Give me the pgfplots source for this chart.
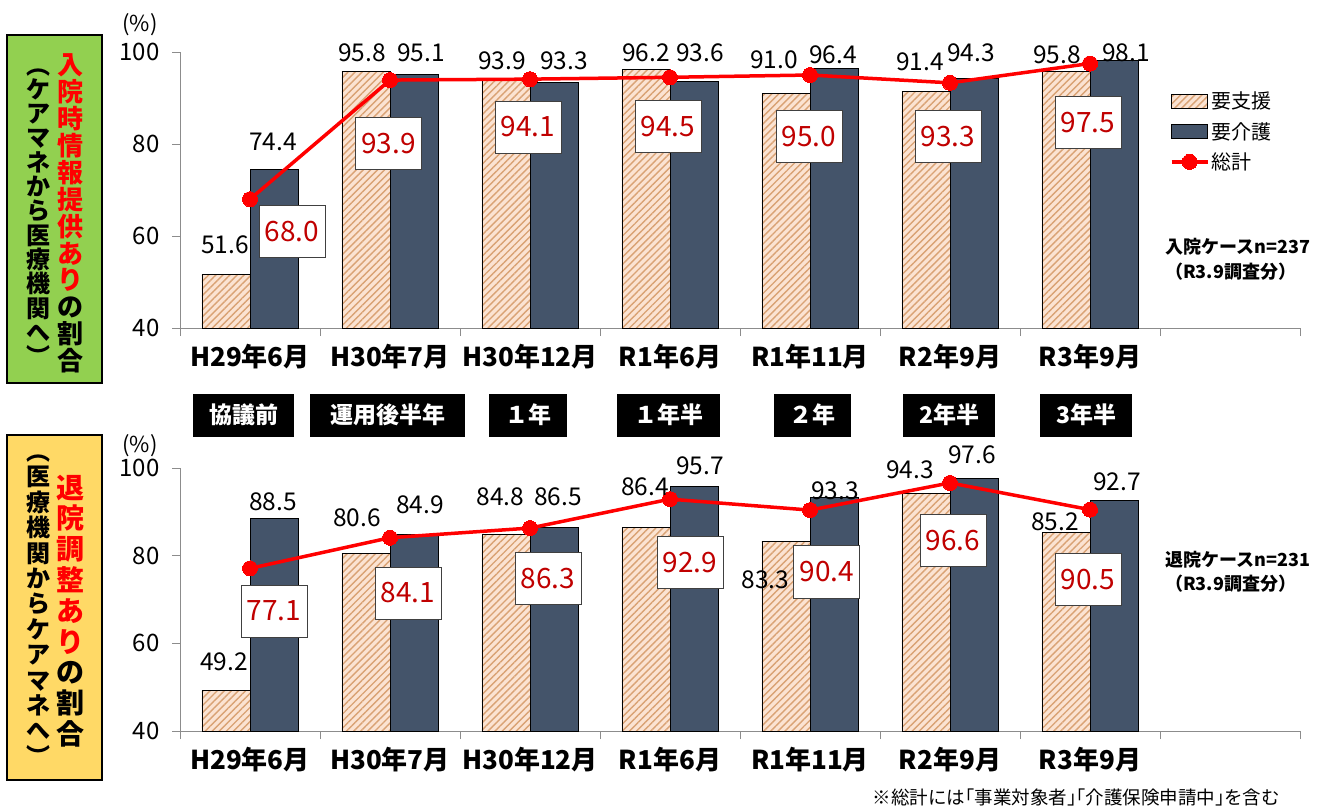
\documentclass[border=0pt]{standalone}
\usepackage{fontspec}
\setmainfont{Noto Sans CJK JP}
\usepackage{pgfplots}
\usepackage{pgfplotstable}
\pgfplotsset{compat=1.18}
\usetikzlibrary{patterns.meta}
\definecolor{peach}{HTML}{FBE3D2}
\definecolor{stripe}{HTML}{D9A274}
\definecolor{slate}{HTML}{44546A}
\definecolor{boxred}{HTML}{C00000}
\definecolor{jpred}{HTML}{FF0000}
\definecolor{gbox}{HTML}{92D050}
\definecolor{ybox}{HTML}{FFD966}
\definecolor{axgray}{HTML}{8C8C8C}

\pgfplotstableread{
x shien kaigo total
0 51.6 74.4 68.0
1 95.8 95.1 93.9
2 93.9 93.3 94.1
3 96.2 93.6 94.5
4 91.0 96.4 95.0
5 91.4 94.3 93.3
6 95.8 98.1 97.5
}\nyuin

\pgfplotstableread{
x shien kaigo total
0 49.2 88.5 77.1
1 80.6 84.9 84.1
2 84.8 86.5 86.3
3 86.4 95.7 92.9
4 83.3 93.3 90.4
5 94.3 97.6 96.6
6 85.2 92.7 90.5
}\taiin

% label positions (layout only)
\pgfplotstableread{
x y lbl
-0.179 58.0 51.6
0.164 80.4 74.4
0.80 99.8 95.8
1.221 99.8 95.1
1.80 98.0 93.9
2.243 98.0 93.3
2.829 99.8 96.2
3.214 99.8 93.6
3.743 98.3 91.0
4.164 99.3 96.4
4.786 97.8 91.4
5.15 99.8 94.3
5.764 99.3 95.8
6.257 99.9 98.1
}\nyuinlbl

\pgfplotstableread{
x y lbl
0.30 60.9 68.0
0.99 80.2 93.9
1.986 83.7 94.1
2.986 83.9 94.5
3.993 81.7 95.0
4.986 81.7 93.3
5.986 84.6 97.5
}\nyuinbox

\pgfplotstableread{
x y lbl
-0.186 55.8 49.2
0.164 92.3 88.5
0.764 88.6 80.6
1.214 91.6 84.9
1.79 93.4 84.8
2.2 93.4 86.5
2.821 95.7 86.4
3.68 74.5 83.3
4.179 94.8 93.3
4.714 99.6 94.3
5.75 87.7 85.2
6.193 96.8 92.7
}\taiinlbl

\pgfplotstableread{
x y lbl
0.171 67.4 77.1
1.129 71.5 84.1
2.129 74.9 86.3
3.143 78.4 92.9
4.12 76.3 90.4
5.021 83.4 96.6
5.986 74.5 90.5
}\taiinbox

\pgfplotsset{
  /pgf/number format/assume math mode=true,
  jpaxis/.style={
    scale only axis, width=1120pt,
    xmin=-0.5, xmax=7.5, ymin=40, ymax=100,
    axis lines*=left,
    axis line style={axgray, line width=1pt},
    tick style={axgray, line width=1pt},
    tick align=outside, major tick length=8pt,
    ytick={40,60,80,100},
    xtick={-0.5,0.5,...,7.5},
    x tick label as interval,
    xticklabels={H29年6月,H30年7月,H30年12月,R1年6月,R1年11月,R2年9月,R3年9月,{}},
    xticklabel style={font=\bfseries\fontsize{26}{28}\selectfont, yshift=-5pt},
    yticklabel style={font=\fontsize{24}{28}\selectfont, xshift=-9pt},
  },
  shienbar/.style={ybar, bar width=0.343, bar shift=-0.1715, draw=black, line width=0.8pt,
    fill=peach, postaction={pattern={Lines[angle=45,distance=5pt,line width=1.4pt]}, pattern color=stripe},
    legend image code/.code={\draw[#1] (0pt,-7pt) rectangle (36pt,7pt);}},
  kaigobar/.style={ybar, bar width=0.343, bar shift=0.1715, draw=black, line width=0.8pt, fill=slate,
    legend image code/.code={\draw[#1] (0pt,-7pt) rectangle (36pt,7pt);}},
  totalline/.style={jpred, line width=3.5pt, mark=*, mark size=7.5pt, mark options={fill=jpred, draw=jpred, line width=0pt},
    legend image code/.code={\draw[#1, mark repeat=2, mark phase=2] plot coordinates {(0pt,0pt) (18pt,0pt) (36pt,0pt)};}},
  barlbl/.style={draw=none, forget plot, nodes near coords, point meta=explicit symbolic,
    nodes near coords align={center},
    every node near coord/.append style={anchor=center, text=black, font=\fontsize{24.5}{27}\selectfont, inner sep=0pt}},
  boxlbl/.style={draw=none, forget plot, nodes near coords, point meta=explicit symbolic,
    nodes near coords align={center},
    every node near coord/.append style={anchor=center, draw=black!75, line width=0.8pt, fill=white, text=boxred,
      minimum width=66pt, minimum height=52pt, inner sep=0pt, font=\fontsize{28}{30}\selectfont}},
}

\begin{document}
\begin{tikzpicture}
\useasboundingbox (0,0) rectangle (1332pt,-809pt);

% ---------- top chart ----------
\begin{axis}[jpaxis, at={(180pt,-328pt)}, anchor=south west, height=276pt,
  legend style={at={(0.881,0.87)}, anchor=north west, draw=none, fill=none,
    font=\fontsize{20}{24}\selectfont, legend cell align=left, row sep=8pt,
    nodes={inner sep=2pt}}]
\addplot[shienbar] table[x=x, y=shien] {\nyuin};
\addlegendentry{要支援}
\addplot[kaigobar] table[x=x, y=kaigo] {\nyuin};
\addlegendentry{要介護}
\addplot[totalline] table[x=x, y=total] {\nyuin};
\addlegendentry{総計}
\addplot[barlbl] table[x=x, y=y, meta=lbl] {\nyuinlbl};
\addplot[boxlbl] table[x=x, y=y, meta=lbl] {\nyuinbox};
\end{axis}

% ---------- bottom chart ----------
\begin{axis}[jpaxis, at={(180pt,-731pt)}, anchor=south west, height=263pt]
\addplot[shienbar] table[x=x, y=shien] {\taiin};
\addplot[kaigobar] table[x=x, y=kaigo] {\taiin};
\addplot[totalline] table[x=x, y=total] {\taiin};
\addplot[barlbl] table[x=x, y=y, meta=lbl] {\taiinlbl};
% labels that sit above the plot area (anchored at the top edge, shifted up)
\addplot[barlbl, every node near coord/.append style={yshift=2.5pt}] coordinates {(3.214,99.9) [95.7]};
\addplot[barlbl, every node near coord/.append style={yshift=13.5pt}] coordinates {(5.157,99.9) [97.6]};
\addplot[boxlbl] table[x=x, y=y, meta=lbl] {\taiinbox};
\end{axis}

% (%) labels
\node[font=\fontsize{22}{24}\selectfont] at (140pt,-25pt) {(\%)};
\node[font=\fontsize{22}{24}\selectfont] at (140pt,-446pt) {(\%)};

% left boxes
\draw[fill=gbox, line width=1.2pt] (7pt,-35pt) rectangle (102pt,-383pt);
\node[align=center, inner sep=0pt, font=\bfseries\fontsize{26}{26.9}\selectfont] at (70pt,-213.5pt)
 {\textcolor{jpred}{入}\\\textcolor{jpred}{院}\\\textcolor{jpred}{時}\\\textcolor{jpred}{情}\\\textcolor{jpred}{報}\\\textcolor{jpred}{提}\\\textcolor{jpred}{供}\\\textcolor{jpred}{あ}\\\textcolor{jpred}{り}\\の\\割\\合};
\node[align=center, inner sep=0pt, font=\bfseries\fontsize{24}{24.3}\selectfont] at (38pt,-217pt)
 {︵\\ケ\\ア\\マ\\ネ\\か\\ら\\医\\療\\機\\関\\へ\\︶};

\draw[fill=ybox, line width=1.2pt] (7pt,-435pt) rectangle (102pt,-780pt);
\node[align=center, inner sep=0pt, font=\bfseries\fontsize{28}{30.8}\selectfont] at (70pt,-611pt)
 {\textcolor{jpred}{退}\\\textcolor{jpred}{院}\\\textcolor{jpred}{調}\\\textcolor{jpred}{整}\\\textcolor{jpred}{あ}\\\textcolor{jpred}{り}\\の\\割\\合};
\node[align=center, inner sep=0pt, font=\bfseries\fontsize{24}{25.4}\selectfont] at (38pt,-610pt)
 {︵\\医\\療\\機\\関\\か\\ら\\ケ\\ア\\マ\\ネ\\へ\\︶};

% period labels
\tikzset{blk/.style={fill=black, text=white, font=\bfseries\fontsize{23}{25}\selectfont, minimum height=43pt, inner sep=0pt}}
\node[blk, minimum width=101pt] at (243.5pt,-415pt) {協議前};
\node[blk, minimum width=155pt] at (387.5pt,-415pt) {運用後半年};
\node[blk, minimum width=78pt] at (528pt,-415pt) {１年};
\node[blk, minimum width=103pt] at (668.5pt,-415pt) {１年半};
\node[blk, minimum width=77pt] at (812.5pt,-415pt) {２年};
\node[blk, minimum width=92pt] at (949pt,-415pt) {2年半};
\node[blk, minimum width=92pt] at (1086pt,-415pt) {3年半};

% notes
\node[font=\bfseries\fontsize{18}{20}\selectfont, anchor=west, inner sep=0pt] at (1165pt,-247pt) {入院ケースn=237};
\node[font=\bfseries\fontsize{18}{20}\selectfont, anchor=west, inner sep=0pt] at (1165pt,-272pt) {（R3.9調査分）};
\node[font=\bfseries\fontsize{18}{20}\selectfont, anchor=west, inner sep=0pt] at (1165pt,-560pt) {退院ケースn=231};
\node[font=\bfseries\fontsize{18}{20}\selectfont, anchor=west, inner sep=0pt] at (1165pt,-584pt) {（R3.9調査分）};
\node[font=\fontsize{18.5}{20}\selectfont, anchor=east, inner sep=0pt] at (1280pt,-797pt) {※総計には｢事業対象者｣｢介護保険申請中｣を含む};
\end{tikzpicture}
\end{document}
